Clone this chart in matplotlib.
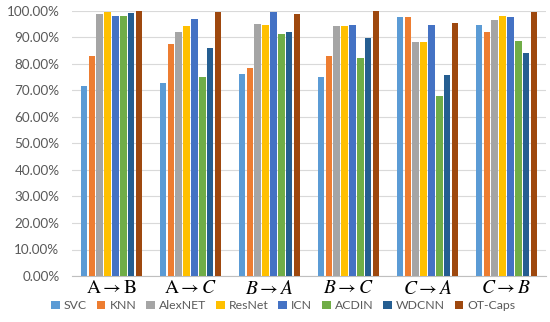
import numpy as np
import matplotlib.pyplot as plt
from matplotlib.ticker import FuncFormatter

plt.rcParams['mathtext.fontset'] = 'stix'
plt.rcParams['font.family'] = ['Lato', 'DejaVu Sans']

tasks = [r'$\mathrm{A}\rightarrow\mathrm{B}$', r'$\mathrm{A}\rightarrow C$', r'$B\rightarrow A$',
         r'$B\rightarrow C$', r'$C\rightarrow A$', r'$C\rightarrow B$']
methods = ['SVC', 'KNN', 'AlexNET', 'ResNet', 'ICN', 'ACDIN', 'WDCNN', 'OT-Caps']
colors = ['#5B9BD5', '#ED7D31', '#A5A5A5', '#FFC000', '#4472C4', '#70AD47', '#255E91', '#9E480E']

# accuracy (%) per method, one value per task
svc = [71.7, 72.7, 76.1, 75.1, 97.8, 94.7]
knn = [83.1, 87.4, 78.4, 83.1, 97.8, 91.9]
alexnet = [98.9, 92.2, 95.0, 94.3, 88.4, 96.7]
resnet = [99.7, 94.2, 94.7, 94.3, 88.3, 98.1]
icn = [98.1, 97.1, 99.6, 94.7, 94.7, 97.8]
acdin = [98.1, 75.1, 91.2, 82.1, 67.8, 88.8]
wdcnn = [99.1, 85.9, 92.2, 89.9, 76.0, 84.0]
otcaps = [99.9, 99.6, 98.9, 99.9, 95.3, 99.6]
series = [svc, knn, alexnet, resnet, icn, acdin, wdcnn, otcaps]

fig = plt.figure(figsize=(5.5, 3.22), dpi=100)
ax = fig.add_axes([72/550, 1-276/322, 474/550, 265/322])

x = np.arange(len(tasks))
slot = 0.8/len(methods)
for i, (name, vals) in enumerate(zip(methods, series)):
    ax.bar(x - 0.4 + slot*(i+0.5), vals, width=slot*0.8, color=colors[i], label=name, zorder=3)

ax.set_xlim(-0.5, len(tasks)-0.5)
ax.set_ylim(0, 100)
ax.set_yticks(np.arange(0, 101, 10))
ax.yaxis.set_major_formatter(FuncFormatter(lambda v, p: f'{v:.2f}%'))
ax.grid(axis='y', color='#D9D9D9', linewidth=0.8, zorder=0)
ax.set_xticks(x)
ax.set_xticklabels(tasks, fontsize=14)
for s in ['top', 'right', 'left']:
    ax.spines[s].set_visible(False)
ax.spines['bottom'].set_color('#BFBFBF')
ax.tick_params(axis='both', length=0)
ax.tick_params(axis='y', labelsize=9.7, labelcolor='#595959', pad=9)
ax.tick_params(axis='x', pad=2)

ax.legend(loc='center', bbox_to_anchor=(0.446, -0.113), ncol=8, frameon=False,
          fontsize=8.8, handlelength=0.7, handleheight=0.7, handletextpad=0.35,
          columnspacing=0.8, labelcolor='#595959')

fig.savefig('out.png', dpi=100)
